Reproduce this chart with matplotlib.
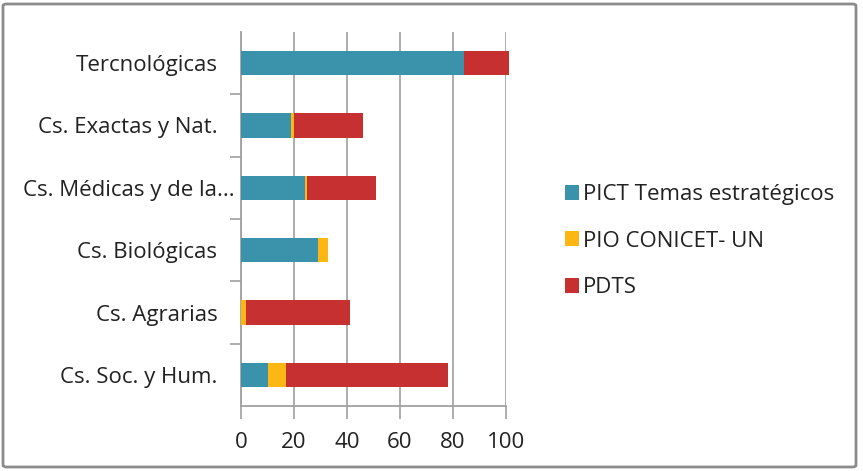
import matplotlib
matplotlib.use("Agg")
import matplotlib.pyplot as plt
import matplotlib.transforms as mtransforms
from matplotlib.patches import FancyBboxPatch, Patch

categories = ["Tercnológicas", "Cs. Exactas y Nat.", "Cs. Médicas y de la...",
              "Cs. Biológicas", "Cs. Agrarias", "Cs. Soc. y Hum."]
pict = [84, 19, 24, 29, 0, 10]
pio = [0, 1, 1, 4, 2, 7]
pdts = [17, 26, 26, 0, 39, 61]
series_names = ["PICT Temas estratégicos", "PIO CONICET- UN", "PDTS"]
colors = ["#3A92AB", "#FCB714", "#C63031"]
xticks = [0, 20, 40, 60, 80, 100]

plt.rcParams["font.family"] = ["Open Sans", "DejaVu Sans"]
FS = 16

fig = plt.figure(figsize=(8.63, 4.71), dpi=100)
W, H = 863, 471
ax = fig.add_axes([241 / W, 1 - 406 / H, 265 / W, 374 / H])

ypos = list(range(len(categories)))[::-1]
left2 = [a + b for a, b in zip(pict, pio)]
h = 0.39
for vals, lefts, c in ((pict, None, colors[0]), (pio, pict, colors[1]), (pdts, left2, colors[2])):
    bars = ax.barh(ypos, vals, left=lefts, height=h, color=c, zorder=3)
    for b in bars:
        b.set_clip_on(False)

ax.set_xlim(0, 100)
ax.set_ylim(-0.5, len(categories) - 0.5)
ax.set_xticks(xticks)
ax.set_xticklabels([str(v) for v in xticks], fontsize=FS, color="#222222")
ax.set_yticks(ypos)
ax.set_yticklabels(categories, fontsize=FS, color="#222222")
ax.set_yticks([y + 0.5 for y in range(len(categories) - 1)], minor=True)
ax.tick_params(axis="y", which="major", length=0, pad=17)
ax.tick_params(axis="y", which="minor", length=8, color="#A0A0A0", width=1.2)
ax.tick_params(axis="x", which="major", length=9, color="#A0A0A0", width=1.2, pad=10,
               direction="out")
ax.grid(axis="x", color="#A6A6A6", linewidth=1.3, zorder=0)
for side in ("top", "right"):
    ax.spines[side].set_visible(False)
for side in ("left", "bottom"):
    ax.spines[side].set_color("#A0A0A0")
    ax.spines[side].set_linewidth(1.3)

# long label sits a little closer to the axis
for lbl in ax.get_yticklabels():
    if lbl.get_text().startswith("Cs. Médicas"):
        lbl.set_transform(lbl.get_transform() +
                          mtransforms.ScaledTranslation(17 / 100, 0, fig.dpi_scale_trans))

handles = [Patch(facecolor=c, edgecolor="none") for c in colors]
fig.legend(handles, series_names, loc="upper left",
           bbox_to_anchor=(545 / W, 1 - 164 / H), frameon=False,
           fontsize=FS, handlelength=0.65, handleheight=0.65,
           handletextpad=0.15, labelspacing=1.15, labelcolor="#222222")

border = FancyBboxPatch((3 / W, 4 / H), 853 / W, 463 / H,
                        boxstyle="round,pad=0,rounding_size=0.004",
                        transform=fig.transFigure, facecolor="none",
                        edgecolor="#8C8C8C", linewidth=2)
fig.patches.append(border)

fig.savefig("out.png", dpi=100)
